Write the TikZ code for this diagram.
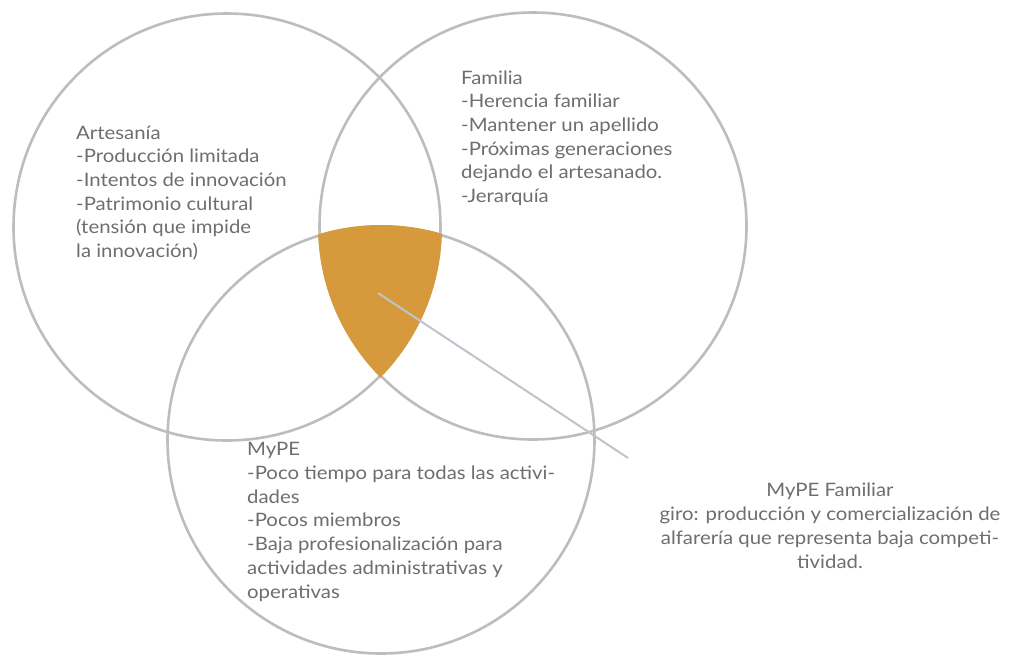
\documentclass[tikz,border=0pt]{standalone}
\usepackage{fontspec}
\setmainfont{Lato}[FakeStretch=1.1]
\definecolor{ringgray}{HTML}{BDBDBD}
\definecolor{gold}{HTML}{D69A3C}
\definecolor{leadgray}{HTML}{BFC3CB}
\definecolor{txt}{HTML}{6E6E72}
\tikzset{
  ring/.style={circle, draw=ringgray, line width=2.6pt, inner sep=0pt, minimum size=427pt},
  label/.style={inner sep=0pt, text=txt, font=\fontsize{18.5}{23.7}\selectfont},
  leader/.style={draw=leadgray, line width=2pt}
}
\begin{document}
\begin{tikzpicture}[x=1pt, y=-1pt]
\useasboundingbox[fill=white] (0,0) rectangle (1014,656);
\node[ring] (A) at (227,227) {};
\node[ring] (F) at (533,226) {};
\node[ring] (M) at (381,440) {};
\begin{scope}
  \clip (A.center) circle[radius=215pt];
  \clip (F.center) circle[radius=215pt];
  \fill[gold] (M.center) circle[radius=215pt];
\end{scope}
\coordinate (hub) at (378,293);
\coordinate (tip) at (628,458);
\draw[leader] (hub) -- (tip);
% base anchor = baseline of the last line
\node[label, anchor=base west, align=left] (art) at (76,257.5)
  {Artesanía\\-Producción limitada\\-Intentos de innovación\\-Patrimonio cultural\\(tensión que impide\\la innovación)};
\node[label, anchor=base west, align=left] (fam) at (461,202.5)
  {Familia\\-Herencia familiar\\-Mantener un apellido\\-Próximas generaciones\\dejando el artesanado.\\-Jerarquía};
\node[label, anchor=base west, align=left] (mype) at (247,598)
  {MyPE\\-Poco tiempo para todas las activi-\\dades\\-Pocos miembros\\-Baja profesionalización para\\actividades administrativas y\\operativas};
\node[label, anchor=base, align=center] (mf) at (830,568)
  {MyPE Familiar\\giro: producción y comercialización de\\alfarería que representa baja competi-\\tividad.};
\end{tikzpicture}
\end{document}
